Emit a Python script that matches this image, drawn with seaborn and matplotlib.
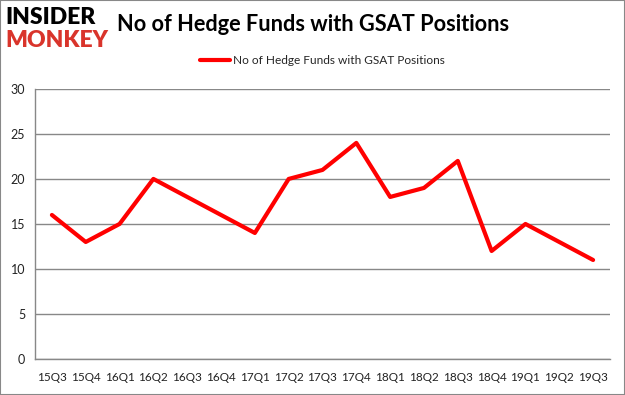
import matplotlib
matplotlib.use("Agg")
import matplotlib.pyplot as plt
import seaborn as sns
import pandas as pd
import numpy as np
from matplotlib.patches import Rectangle

quarters = ["15Q3", "15Q4", "16Q1", "16Q2", "16Q3", "16Q4", "17Q1", "17Q2", "17Q3",
            "17Q4", "18Q1", "18Q2", "18Q3", "18Q4", "19Q1", "19Q2", "19Q3"]
funds = [16, 13, 15, 20, 18, 16, 14, 20, 21, 24, 18, 19, 22, 12, 15, 13, 11]
series_name = "No of Hedge Funds with GSAT Positions"
y_ticks = [0, 5, 10, 15, 20, 25, 30]

sns.set_theme(style="white")
plt.rcParams['font.family'] = ['Lato', 'DejaVu Sans']

df = pd.DataFrame({"idx": np.arange(len(quarters)), "funds": funds, "series": series_name})

fig = plt.figure(figsize=(6.25, 3.95), dpi=100)
ax = fig.add_axes([0.056, 0.091, 0.92, 0.684])

sns.lineplot(data=df, x="idx", y="funds", hue="series", palette=["#ff0000"],
             linewidth=3, ax=ax, legend=True)

ax.set_xlim(-0.5, len(quarters) - 0.5)
ax.set_ylim(0, 30)
ax.set_yticks(y_ticks)
ax.set_yticklabels([str(v) for v in y_ticks], fontsize=9, color="#222222")
ax.set_xticks(np.arange(len(quarters)))
ax.set_xticklabels(quarters, fontsize=8.5, color="#222222")
ax.set_xticks(np.arange(-0.5, len(quarters), 1), minor=True)
ax.tick_params(axis="x", which="major", length=0, pad=9)
ax.tick_params(axis="x", which="minor", length=4, color="#888888", width=1, direction="out")
ax.tick_params(axis="y", length=4, color="#888888", width=1, direction="out", pad=3)
ax.grid(axis="y", color="#888888", linewidth=1)
ax.set_axisbelow(True)
for s in ["top", "right"]:
    ax.spines[s].set_visible(False)
for s in ["left", "bottom"]:
    ax.spines[s].set_color("#888888")
    ax.spines[s].set_linewidth(1)
ax.set_xlabel("")
ax.set_ylabel("")

leg = ax.legend(loc="center", bbox_to_anchor=(0.5, 1.104), frameon=False,
                fontsize=8.6, handlelength=2.5, handletextpad=0.2)
leg.get_lines()[0].set_linewidth(3)

fig.text(0.187, 0.937, "No of Hedge Funds with GSAT Positions", fontsize=15.7,
         fontweight="bold", color="black", va="center", ha="left")
fig.text(0.008, 0.955, "INSIDER", fontsize=16.5, fontweight="heavy", color="black",
         va="center", ha="left")
fig.text(0.008, 0.898, "MONKEY", fontsize=16.5, fontweight="heavy", color="#d9342b",
         va="center", ha="left")

fig.patches.append(Rectangle((0, 0), 1, 1, transform=fig.transFigure, fill=False,
                             edgecolor="#888888", linewidth=1.5))

fig.savefig("out.png", dpi=100)
